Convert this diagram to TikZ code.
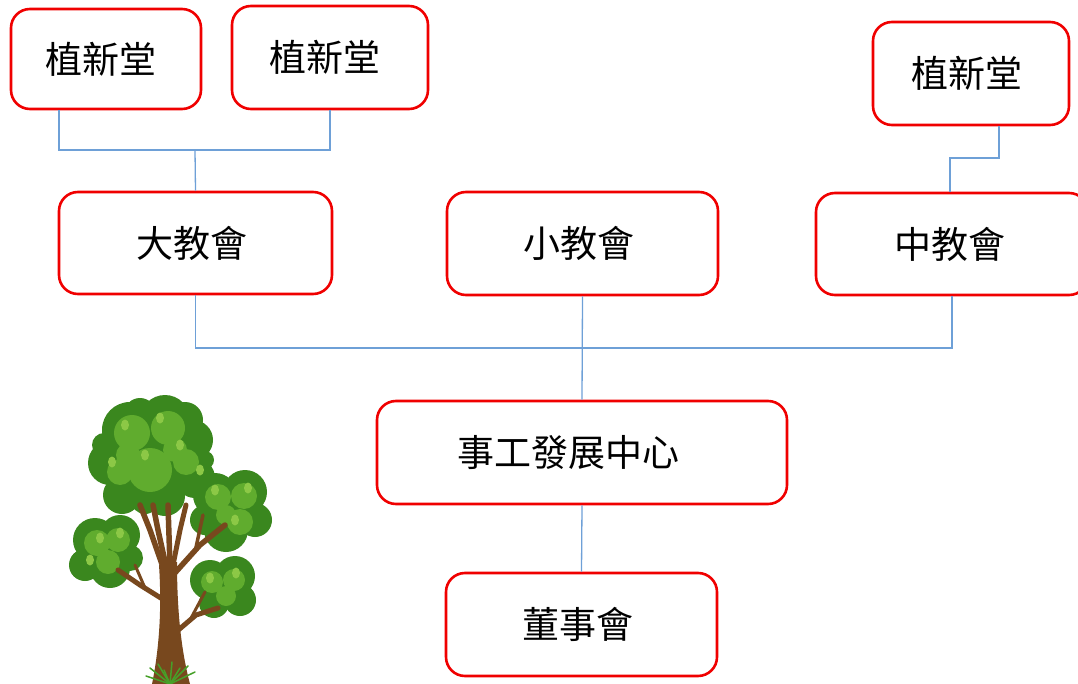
\documentclass[tikz,border=0pt]{standalone}
\usepackage{fontspec}
\setmainfont{Noto Sans CJK TC}
\newcommand{\boxtxt}[2]{\raisebox{-3pt}{\hspace*{-#1pt}#2}}
\begin{document}
\begin{tikzpicture}[x=1pt,y=-1pt,
  box/.style={draw=redline,line width=2.6pt,rounded corners=19pt,fill=white,
    inner sep=0pt,font=\fontsize{37}{40}\selectfont,text=black},
  conn/.style={draw=bluel,line width=1.3pt},
  dk/.style={fill=treedark},
  md/.style={fill=treemid},
  hl/.style={fill=treehl},
  br/.style={draw=trunk,line cap=round,line join=round}]
\definecolor{redline}{RGB}{240,0,0}
\definecolor{bluel}{RGB}{110,160,215}
\definecolor{treedark}{RGB}{58,135,30}
\definecolor{treemid}{RGB}{96,172,46}
\definecolor{treehl}{RGB}{140,200,70}
\definecolor{trunk}{RGB}{120,72,30}
\definecolor{grass}{RGB}{70,160,40}
\useasboundingbox (0,0) rectangle (1078,684);
\clip (0,0) rectangle (1078,684);
% ---------- tree ----------
\begin{scope}
% top crown
\foreach \x/\y/\r in {130/430/28,165/420/25,193/440/20,110/463/22,150/460/36,195/478/20,122/495/19,165/496/20,140/414/16,185/420/18,104/445/12,205/460/9,145/500/14}
  \fill[dk] (\x,\y) circle (\r);
\foreach \x/\y/\r in {132/433/18,168/428/17,150/470/22,120/472/13,186/462/13,128/455/12,175/450/12}
  \fill[md] (\x,\y) circle (\r);
% right crown
\foreach \x/\y/\r in {215/495/22,245/492/22,255/520/17,226/530/22,205/520/15,236/512/22}
  \fill[dk] (\x,\y) circle (\r);
\foreach \x/\y/\r in {218/497/13,244/496/13,240/522/13,226/515/10}
  \fill[md] (\x,\y) circle (\r);
% left crown
\foreach \x/\y/\r in {95/540/22,120/535/20,85/565/16,110/568/20,130/558/13,100/552/20}
  \fill[dk] (\x,\y) circle (\r);
\foreach \x/\y/\r in {97/543/13,118/540/12,108/562/12}
  \fill[md] (\x,\y) circle (\r);
% lower-right crown
\foreach \x/\y/\r in {210/580/20,235/576/20,240/600/16,214/603/15,225/590/18}
  \fill[dk] (\x,\y) circle (\r);
\foreach \x/\y/\r in {212/582/11,234/580/11,226/596/10}
  \fill[md] (\x,\y) circle (\r);
% highlights
\foreach \x/\y in {125/425,160/418,145/455,180/445,112/462,215/490,248/488,235/520,100/538,120/533,210/578,236/573,200/470,90/560}
  \fill[hl] (\x,\y) ellipse (4 and 5.5);
% trunk and branches
\fill[trunk] (152,684) .. controls (159,650) and (162,610) .. (159,565)
  -- (177,562) .. controls (177,610) and (181,650) .. (190,684) -- cycle;
\draw[br,line width=5.5pt] (164,570) -- (150,530) -- (140,505);
\draw[br,line width=5.5pt] (166,566) -- (158,530) -- (153,505);
\draw[br,line width=5.5pt] (170,566) -- (168,505);
\draw[br,line width=5pt] (172,570) -- (180,530) -- (186,505);
\draw[br,line width=5.5pt] (173,575) -- (200,545) -- (225,525);
\draw[br,line width=3.5pt] (195,552) -- (203,515);
\draw[br,line width=5pt] (164,600) -- (140,585) -- (118,570);
\draw[br,line width=3pt] (145,588) -- (135,565);
\draw[br,line width=5pt] (176,632) -- (196,615) -- (218,608);
\draw[br,line width=3pt] (190,620) -- (205,592);
% grass
\foreach \a/\b in {150/668,158/664,164/670,172/662,180/668,188/666,195/672,146/676}
  \draw[grass,line width=1.5pt,line cap=round] (170,684) -- (\a,\b);
\end{scope}
% ---------- boxes ----------
\node[box,minimum width=190pt,minimum height=100pt] (b1) at (106,59) {\boxtxt{10}{植新堂}};
\node[box,minimum width=196pt,minimum height=103pt] (b2) at (330,57.5) {\boxtxt{10}{植新堂}};
\node[box,minimum width=196pt,minimum height=103pt] (b3) at (971,73.5) {\boxtxt{8}{植新堂}};
\node[box,minimum width=273pt,minimum height=102pt] (b4) at (195.5,243) {\boxtxt{7}{大教會}};
\node[box,minimum width=271pt,minimum height=103pt] (b5) at (582.5,243.5) {\boxtxt{7}{小教會}};
\node[box,minimum width=272pt,minimum height=102pt] (b6) at (952,244) {\boxtxt{4}{中教會}};
\node[box,minimum width=410pt,minimum height=103pt] (b7) at (582,452.5) {\boxtxt{28}{事工發展中心}};
\node[box,minimum width=271pt,minimum height=103pt] (b8) at (581.5,624.5) {\boxtxt{8}{董事會}};
% ---------- connectors ----------
\coordinate (j1) at (195,150);
\coordinate (j2) at (950,158);
\coordinate (j3) at (582,348);
\draw[conn] ([xshift=-47pt]b1.south) |- (j1) -| (b2.south);
\draw[conn] (j1) -- (b4.north);
\draw[conn] ([xshift=28pt]b3.south) |- (j2) -- (j2 |- b6.north);
\draw[conn] (b4.south) |- (j3);
\draw[conn] (b6.south) |- (j3);
\draw[conn] (b5.south) -- (b7.north);
\draw[conn] (b7.south) -- (b8.north);
\end{tikzpicture}
\end{document}
